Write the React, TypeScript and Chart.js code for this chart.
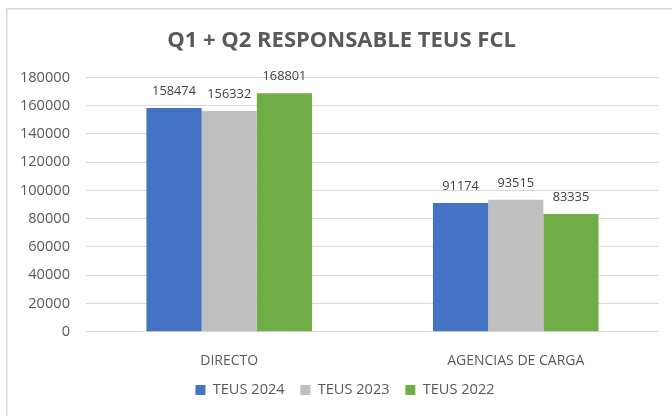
import React, { useEffect, useRef } from "react";
import { Chart, registerables } from "chart.js";

Chart.register(...registerables);

const categories = ["DIRECTO", "AGENCIAS DE CARGA"];
const seriesLabels = ["TEUS 2024", "TEUS 2023", "TEUS 2022"];
const teus2024 = [158474, 91174];
const teus2023 = [156332, 93515];
const teus2022 = [168801, 83335];
const seriesColors = ["#4472C4", "#BFBFBF", "#70AD47"];
const yMin = 0;
const yMax = 180000;
const yStep = 20000;
const titleText = "Q1 + Q2 RESPONSABLE TEUS FCL";

const FONT = "'Open Sans', 'Noto Sans', sans-serif";
const TEXT = "#595959";

const frame = {
  id: "frame",
  beforeDraw(chart: any) {
    const ctx = chart.ctx;
    ctx.save();
    ctx.strokeStyle = "#d9d9d9";
    ctx.lineWidth = 1.5;
    ctx.beginPath();
    ctx.moveTo(6.75, chart.height);
    ctx.lineTo(6.75, 8.75);
    ctx.lineTo(chart.width, 8.75);
    ctx.stroke();
    ctx.restore();
  },
};

// centre the title and legend over the full chart frame rather than the padded area
const recenter = {
  id: "recenter",
  afterLayout(chart: any) {
    const move = (box: any, c: number) => {
      if (!box) return;
      const w = box.right - box.left;
      box.left = c - w / 2;
      box.right = c + w / 2;
    };
    move(chart.titleBlock, 341.5);
    move(chart.legend, 345);
  },
};

const valueLabels = {
  id: "valueLabels",
  afterDatasetsDraw(chart: any) {
    const ctx = chart.ctx;
    ctx.save();
    ctx.font = `12.8px ${FONT}`;
    ctx.fillStyle = "#404040";
    ctx.textAlign = "center";
    ctx.textBaseline = "middle";
    chart.data.datasets.forEach((ds: any, i: number) => {
      const meta = chart.getDatasetMeta(i);
      meta.data.forEach((bar: any, j: number) => {
        ctx.fillText(String(ds.data[j]), bar.x, bar.y - 16.5);
      });
    });
    ctx.restore();
  },
};

export default function App() {
  const ref = useRef<HTMLCanvasElement | null>(null);

  useEffect(() => {
    if (!ref.current) return;
    const series = [teus2024, teus2023, teus2022];
    const chart = new Chart(ref.current, {
      type: "bar",
      data: {
        labels: categories,
        datasets: series.map((d, i) => ({
          label: seriesLabels[i],
          data: d,
          backgroundColor: seriesColors[i],
          borderWidth: 0,
          categoryPercentage: 0.578,
          barPercentage: 1,
        })),
      },
      options: {
        responsive: false,
        animation: false,
        layout: { padding: { left: 12, right: 13, top: 0, bottom: 8.7 } },
        plugins: {
          title: {
            display: true,
            text: titleText,
            color: TEXT,
            font: { family: FONT, size: 22, weight: "bold", lineHeight: 1.2 },
            padding: { top: 27.3, bottom: 23.8 },
          },
          legend: {
            position: "bottom",
            labels: {
              boxWidth: 10,
              boxHeight: 10,
              padding: 15.7,
              color: TEXT,
              font: { family: FONT, size: 14.6 },
            },
          },
          tooltip: { enabled: false },
        },
        scales: {
          x: {
            grid: { display: false },
            border: { display: false },
            ticks: { color: TEXT, font: { family: FONT, size: 14 }, padding: 12.9 },
            afterFit: (s: any) => {
              s.height = 35.3;
            },
          },
          y: {
            min: yMin,
            max: yMax,
            grid: { color: "#d9d9d9", drawTicks: false },
            border: { display: false },
            ticks: {
              stepSize: yStep,
              color: TEXT,
              font: { family: FONT, size: 14.6 },
              padding: 16,
              callback: (v: any) => String(v),
            },
            afterFit: (s: any) => {
              s.width = 74;
            },
          },
        },
      },
      plugins: [frame, recenter, valueLabels],
    });
    return () => chart.destroy();
  }, []);

  return (
    <div style={{ position: "absolute", left: 0, top: 0, width: 672, height: 416, overflow: "hidden", background: "#fff" }}>
      <canvas ref={ref} width={672} height={416} style={{ display: "block" }} />
    </div>
  );
}
